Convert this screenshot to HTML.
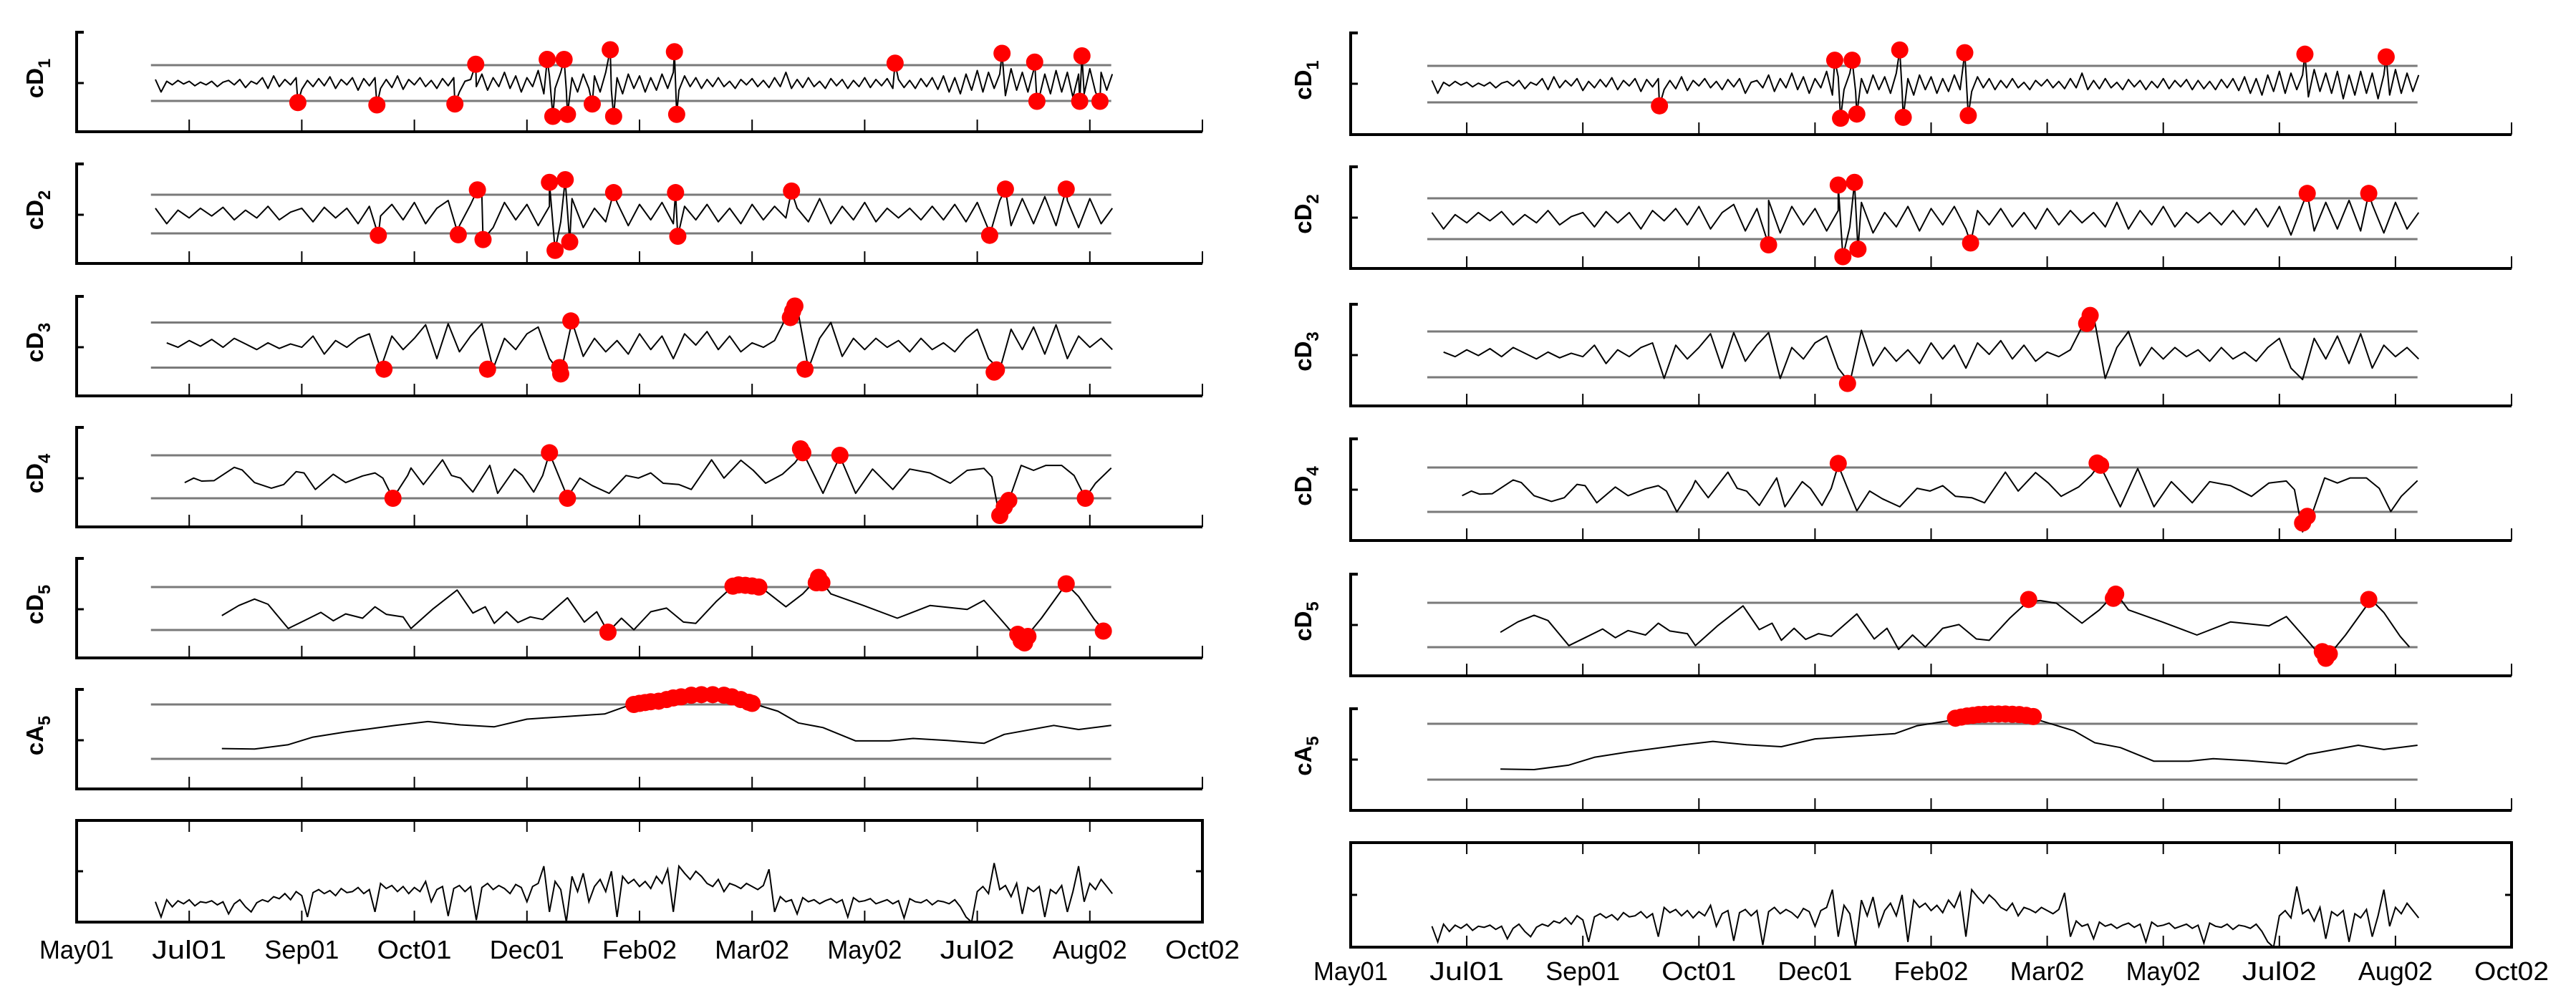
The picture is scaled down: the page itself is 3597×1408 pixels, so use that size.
<!DOCTYPE html>
<html><head><meta charset="utf-8"><style>html,body{margin:0;padding:0;background:#fff}svg{display:block}</style></head>
<body>
<svg id="chart" width="3597" height="1408" viewBox="0 0 3597 1408" xmlns="http://www.w3.org/2000/svg"></svg>
<script>
// ---- data ----
const monthLabels=['May01','Jul01','Sep01','Oct01','Dec01','Feb02','Mar02','May02','Jul02','Aug02','Oct02'];
const rowNames=['cD1','cD2','cD3','cD4','cD5','cA5'];
const cd1Start=0.7, cd1Step=0.05;
const cd1Vals=[0.2,-0.5,0.1,-0.1,0.15,-0.05,0.1,-0.15,0.05,-0.1,
0.1,-0.2,0.05,0.15,-0.1,0.2,-0.25,0.1,-0.05,0.3,
-0.3,0.4,-0.2,0.2,-0.1,0.3,-0.35,0.15,-0.2,0.25,
-0.15,0.35,-0.3,0.2,-0.1,0.3,-0.4,0.25,-0.15,0.3,
-0.3,0.2,-0.25,0.4,-0.35,0.2,-0.1,0.3,-0.2,0.15,
-0.3,0.25,-0.15,0.3,-0.5,0.1,0.2,-0.2,0.5,-0.4,
0.3,-0.2,0.6,-0.3,0.4,-0.5,0.3,-0.2,0.7,-0.6,
0.4,-0.3,0.6,-0.4,0.3,-0.5,0.5,-0.3,0.4,-0.5,
0.6,-0.4,0.3,-0.6,0.5,-0.3,0.4,-0.5,0.3,-0.4,
0.5,-0.3,0.6,-0.4,0.4,-0.2,0.3,-0.3,0.2,-0.2,
0.3,-0.2,0.1,-0.3,0.2,-0.1,0.25,-0.2,0.15,-0.25,
0.3,-0.2,0.6,-0.3,0.2,-0.25,0.3,-0.2,0.1,-0.3,
0.25,-0.15,0.2,-0.3,0.15,-0.2,0.3,-0.25,0.2,-0.15,
0.25,-0.3,0.2,-0.25,0.15,-0.3,0.25,-0.2,0.3,-0.35,
0.4,-0.5,0.3,-0.6,0.5,-0.4,0.7,-0.5,0.6,-0.3,
0.5,-0.7,0.8,-0.4,0.6,-0.5,0.7,-0.8,0.5,-0.6,
0.7,-0.5,0.6,-0.8,0.5,-0.6,0.8,-0.5,0.6,-0.4,0.5];
const cd2Start=0.7, cd2Step=0.1;
const cd2Vals=[0.3,-0.5,0.2,-0.2,0.3,-0.1,0.35,-0.3,0.2,-0.2,
0.4,-0.3,0.1,0.3,-0.4,0.35,-0.2,0.3,-0.5,0.4,
-0.1,0.5,-0.3,0.6,-0.5,0.3,0.7,-0.6,0.5,0.9,
-0.7,0.6,-0.3,0.5,-0.6,0.4,-0.4,0.8,-0.7,0.3,
-0.4,0.6,-0.6,0.5,-0.3,0.6,-0.5,0.4,-0.3,0.5,
-0.4,0.3,-0.5,0.5,-0.3,0.4,-0.2,0.3,-0.4,0.8,
-0.5,0.4,-0.3,0.6,-0.4,0.3,-0.2,0.3,-0.3,0.4,
-0.3,0.5,-0.4,0.6,-0.8,0.7,-0.6,0.8,-0.5,0.9,
-0.6,0.7,-0.7,0.8,-0.5,0.3];
const cd3Start=0.8, cd3Step=0.1;
const cd3Vals=[0.1,-0.1,0.2,-0.05,0.25,-0.1,0.3,0.05,-0.2,0.1,
-0.15,0.05,-0.1,0.4,-0.4,0.2,-0.1,0.3,0.5,-1.05,
0.4,-0.2,0.3,0.9,-0.6,0.95,-0.3,0.4,0.95,-1.05,
0.3,-0.2,0.5,0.8,-0.6,-1.25,1.05,-0.5,0.3,-0.3,
0.2,-0.4,0.5,-0.2,0.4,-0.6,0.5,0.0,0.6,-0.2,
0.4,-0.3,0.1,-0.1,0.2,1.2,1.7,-1.05,0.3,1.0,
-0.5,0.3,-0.2,0.3,-0.1,0.2,-0.3,0.3,-0.2,0.1,
-0.3,0.3,0.7,-0.6,-1.1,0.7,-0.2,0.8,-0.4,0.9,
-0.6,0.4,-0.1,0.3,-0.2];
const cd4X=[0.96,1.04,1.11,1.22,1.40,1.47,1.58,1.73,1.84,1.95,2.02,2.12,2.28,2.39,2.54,2.65,2.72,2.81,2.94,2.97,3.08,3.25,3.33,3.41,3.52,3.67,3.74,3.89,3.96,4.06,4.14,4.20,4.29,4.36,4.47,4.58,4.73,4.88,4.99,5.10,5.21,5.35,5.46,5.64,5.75,5.90,6.01,6.12,6.27,6.38,6.45,6.52,6.63,6.78,6.92,7.07,7.25,7.40,7.58,7.76,7.91,8.06,8.13,8.20,8.28,8.39,8.50,8.61,8.75,8.86,8.96,9.05,9.19];
const cd4Vals=[-0.27,-0.06,-0.2,-0.18,0.44,0.32,-0.27,-0.53,-0.36,0.24,0.18,-0.59,0.12,-0.27,0.04,0.18,-0.06,-1.0,0.06,0.41,-0.36,0.79,0.06,-0.06,-0.71,0.53,-0.77,0.36,0.06,-0.71,0.06,1.1,-0.06,-0.95,-0.06,-0.41,-0.77,0.06,-0.06,0.18,-0.3,-0.36,-0.59,0.79,-0.06,0.77,0.3,-0.3,0.12,0.65,1.15,0.41,-0.77,0.95,-0.77,0.36,-0.59,0.36,0.18,-0.3,0.3,0.39,0,-1.9,-1.12,0.53,0.3,0.53,0.53,0.06,-0.98,-0.3,0.41];
const cd5X=[1.29,1.44,1.58,1.70,1.88,2.02,2.17,2.28,2.39,2.54,2.65,2.75,2.90,2.97,3.16,3.38,3.52,3.63,3.71,3.82,3.92,4.03,4.14,4.36,4.51,4.62,4.72,4.84,4.95,5.10,5.24,5.39,5.50,5.68,5.83,5.94,6.08,6.30,6.45,6.59,6.70,6.99,7.29,7.58,7.91,8.06,8.20,8.39,8.57,8.79,8.90,9.04,9.12];
const cd5Vals=[-0.33,0.14,0.44,0.2,-0.93,-0.57,-0.18,-0.57,-0.25,-0.45,0.08,-0.27,-0.39,-0.93,-0.04,0.86,-0.21,0.08,-0.69,-0.15,-0.65,-0.39,-0.51,0.5,-0.63,-0.15,-1.1,-0.45,-0.99,-0.15,0.02,-0.63,-0.69,0.32,1.04,1.1,0.98,0.08,0.68,1.45,0.68,0.14,-0.45,0.14,-0.04,0.38,-0.45,-1.6,-0.45,1.15,0.56,-0.51,-0.99];
const ca5X=[1.29,1.58,1.88,2.10,2.39,2.83,3.12,3.41,3.71,4.00,4.36,4.69,4.88,5.17,5.46,5.75,5.97,6.23,6.41,6.63,6.92,7.22,7.43,7.73,8.06,8.24,8.68,8.90,9.19];
const ca5Vals=[-0.62,-0.64,-0.48,-0.2,-0.01,0.23,0.37,0.25,0.18,0.46,0.56,0.65,0.93,1.12,1.34,1.34,1.08,0.75,0.32,0.15,-0.34,-0.34,-0.25,-0.32,-0.43,-0.1,0.23,0.08,0.23];
const rawStart=0.7, rawStep=0.05;
const rawVals=[0.2,0.05,0.22,0.15,0.21,0.18,0.22,0.16,0.2,0.19,
0.21,0.17,0.2,0.08,0.18,0.22,0.15,0.1,0.19,0.22,
0.2,0.25,0.23,0.28,0.22,0.3,0.26,0.05,0.29,0.32,
0.28,0.31,0.26,0.33,0.29,0.3,0.34,0.28,0.32,0.1,
0.38,0.33,0.36,0.3,0.35,0.28,0.34,0.3,0.4,0.2,
0.32,0.35,0.06,0.33,0.36,0.3,0.35,0.02,0.34,0.38,
0.32,0.36,0.33,0.28,0.37,0.34,0.2,0.35,0.38,0.55,
0.1,0.4,0.32,0.0,0.45,0.3,0.48,0.2,0.35,0.42,
0.3,0.5,0.05,0.45,0.38,0.42,0.35,0.4,0.33,0.45,
0.38,0.52,0.1,0.55,0.48,0.42,0.5,0.45,0.38,0.35,
0.42,0.3,0.38,0.36,0.33,0.38,0.35,0.32,0.36,0.52,
0.1,0.25,0.2,0.22,0.08,0.24,0.2,0.22,0.18,0.21,
0.23,0.19,0.22,0.05,0.24,0.2,0.21,0.23,0.18,0.2,
0.22,0.18,0.21,0.04,0.23,0.2,0.19,0.22,0.17,0.21,
0.2,0.18,0.22,0.15,0.05,0.0,0.3,0.35,0.28,0.58,
0.32,0.36,0.25,0.38,0.08,0.34,0.3,0.35,0.05,0.32,
0.28,0.36,0.1,0.3,0.55,0.2,0.38,0.32,0.42,0.35,0.28];
// outlier markers (left panel)
const lCd1MX=[1.965,2.667,3.36,3.545,4.18,4.23,4.33,4.36,4.58,4.74,4.77,5.31,5.33,7.27,8.22,8.51,8.53,8.93,8.91,9.09];
const lCd1MV=[-1.09,-1.22,-1.17,1.05,1.32,-1.86,1.32,-1.75,-1.17,1.86,-1.86,1.75,-1.75,1.11,1.66,1.17,-1.02,1.52,-1.02,-1.02];
const lCd2MX=[3.56,4.2,4.34,4.77,5.32,6.35,8.25,8.79,2.68,3.39,3.61,4.25,4.38,5.34,8.11];
const lCd2MV=[1.25,1.64,1.78,1.11,1.11,1.19,1.29,1.29,-1.1,-1.07,-1.32,-1.88,-1.44,-1.15,-1.1];
const lCd3MX=[4.39,6.38,6.36,6.34,2.73,3.65,4.3,4.29,6.47,8.17,8.15];
const lCd3MV=[1.07,1.73,1.5,1.22,-1.07,-1.07,-1.28,-1.0,-1.07,-1.1,-1.2];
const lCd4MX=[4.2,6.43,6.45,6.78,2.81,4.36,8.2,8.24,8.28,8.96];
const lCd4MV=[1.12,1.3,1.12,1.0,-1.0,-1.0,-1.8,-1.4,-1.1,-1.0];
const lCd5MX=[5.83,5.88,5.94,6.0,6.06,6.59,6.57,6.62,8.79,4.72,8.36,8.39,8.42,8.45,9.12];
const lCd5MV=[1.04,1.1,1.08,1.05,1.0,1.45,1.2,1.2,1.15,-1.1,-1.2,-1.5,-1.6,-1.3,-1.05];
const lCa5MX=[4.95,5.0,5.05,5.1,5.17,5.24,5.3,5.37,5.46,5.55,5.65,5.75,5.82,5.9,5.97,6.0];
const lCa5MV=[1.0,1.04,1.07,1.1,1.12,1.18,1.24,1.28,1.34,1.36,1.36,1.34,1.28,1.18,1.08,1.04];
// outlier markers (right panel)
const rCd1MX=[2.66,4.17,4.32,4.22,4.36,4.73,4.76,5.29,5.32,8.22,8.92];
const rCd1MV=[-1.19,1.31,1.31,-1.87,-1.64,1.87,-1.82,1.72,-1.72,1.64,1.49];
const rCd2MX=[4.2,4.34,8.24,8.77,3.6,4.24,4.37,5.34];
const rCd2MV=[1.65,1.78,1.24,1.24,-1.28,-1.86,-1.49,-1.19];
const rCd3MX=[6.37,6.34,4.28];
const rCd3MV=[1.7,1.35,-1.27];
const rCd4MX=[4.2,6.43,6.46,8.2,8.24];
const rCd4MV=[1.18,1.2,1.1,-1.5,-1.2];
const rCd5MX=[5.84,6.59,6.57,8.77,8.37,8.4,8.43];
const rCd5MV=[1.15,1.39,1.2,1.15,-1.2,-1.5,-1.3];
const rCa5MX=[5.21,5.26,5.31,5.36,5.41,5.46,5.52,5.58,5.64,5.7,5.76,5.82,5.88];
const rCa5MV=[1.2,1.24,1.28,1.3,1.33,1.34,1.35,1.35,1.35,1.34,1.33,1.3,1.26];

// ---- drawing ----
const NS='http://www.w3.org/2000/svg';
const svg=document.getElementById('chart');
function mk(tag,attrs,parent){const e=document.createElementNS(NS,tag);for(const k in attrs)e.setAttribute(k,attrs[k]);(parent||svg).appendChild(e);return e;}
function uniformX(start,step,n){const a=[];for(let i=0;i<n;i++)a.push(start+step*i);return a;}
const cd1X=uniformX(cd1Start,cd1Step,cd1Vals.length);
const cd2X=uniformX(cd2Start,cd2Step,cd2Vals.length);
const cd3X=uniformX(cd3Start,cd3Step,cd3Vals.length);
const rawX=uniformX(rawStart,rawStep,rawVals.length);

function drawPanel(P){
  const g=mk('g',{});
  
  
  const xs=v=>P.x0+v*P.step;
  const xEnd=xs(10);
  const series=[[cd1X,cd1Vals,true],[cd2X,cd2Vals,true],[cd3X,cd3Vals,false],[cd4X,cd4Vals,false],[cd5X,cd5Vals,false],[ca5X,ca5Vals,false]];
  for(let r=0;r<6;r++){
    const top=P.tops[r], bot=top+P.h, cy=top+P.centerOff[r], u=P.units[r];
    const ys=v=>cy-v*u;
    const rg=mk('g',{},g);
    
    
    // axes
    const ax=mk('path',{d:`M${P.x0+10},${top} H${P.x0} V${bot} H${xEnd}`,fill:'none',stroke:'#000','stroke-width':4},rg);
    
    
    const mt=mk('line',{x1:P.x0,x2:P.x0+10,y1:top+71,y2:top+71,stroke:'#000','stroke-width':3},rg);
    
    
    for(let i=1;i<=10;i++){
      const t=mk('line',{x1:xs(i),x2:xs(i),y1:bot,y2:bot-17,stroke:'#000','stroke-width':2},rg);
      
      
    }
    // thresholds
    [1,-1].forEach(s=>{
      const th=mk('line',{x1:xs(0.66),x2:xs(9.19),y1:ys(s),y2:ys(s),stroke:'#7a7a7a','stroke-width':3},rg);
      
      
    });
    // series line
    const [sx,sv,merge]=series[r];
    let pts=sx.map((x,i)=>[x,sv[i]]);
    const mx=P.markers[r][0], mv=P.markers[r][1];
    if(merge){pts=pts.concat(mx.map((x,i)=>[x,mv[i]]));pts.sort((a,b)=>a[0]-b[0]);}
    const d=pts.map((p,i)=>(i?'L':'M')+xs(p[0]).toFixed(1)+','+ys(p[1]).toFixed(1)).join(' ');
    const ln=mk('path',{d:d,fill:'none',stroke:'#000','stroke-width':2,'stroke-linejoin':'round'},rg);
    
    
    for(let i=0;i<mx.length;i++){
      const c=mk('circle',{cx:xs(mx[i]),cy:ys(mv[i]),r:12,fill:'#f00'},rg);
      
      
    }
    // y label
    const lab=mk('text',{x:0,y:0,transform:`translate(${P.labelX},${top+P.h/2-5}) rotate(-90)`,'text-anchor':'middle','font-family':'Liberation Sans, Arial, sans-serif','font-weight':'bold','font-size':33,fill:'#000'},rg);
    
    
    const name=rowNames[r];
    const t1=mk('tspan',{},lab); t1.textContent=name.slice(0,2);
    const t2=mk('tspan',{dy:10,'font-size':24},lab); t2.textContent=name.slice(2);
  }
  // bottom raw series box
  const bt=P.boxTop, bb=P.boxBot;
  const bg=mk('g',{},g);
  
  
  const box=mk('rect',{x:P.x0,y:bt,width:xEnd-P.x0,height:bb-bt,fill:'none',stroke:'#000','stroke-width':4},bg);
  
  
  for(let i=1;i<=9;i++){
    const a=mk('line',{x1:xs(i),x2:xs(i),y1:bt,y2:bt+16,stroke:'#000','stroke-width':2},bg);
    
    
    const b=mk('line',{x1:xs(i),x2:xs(i),y1:bb,y2:bb-16,stroke:'#000','stroke-width':2},bg);
    
    
  }
  const midY=bt+0.5*(bb-bt);
  [[P.x0,P.x0+9],[xEnd,xEnd-9]].forEach(([a,b])=>{
    const t=mk('line',{x1:a,x2:b,y1:midY,y2:midY,stroke:'#000','stroke-width':3},bg);
    
    
  });
  const yb=v=>bb-v*(bb-bt);
  const rd=rawX.map((x,i)=>(i?'L':'M')+xs(x).toFixed(1)+','+yb(rawVals[i]).toFixed(1)).join(' ');
  const rl=mk('path',{d:rd,fill:'none',stroke:'#000','stroke-width':2},bg);
  
  
  for(let i=0;i<monthLabels.length;i++){
    const t=mk('text',{x:xs(i),y:P.labelY,'text-anchor':'middle','font-family':'Liberation Sans, Arial, sans-serif','font-size':36,textLength:104,lengthAdjust:'spacingAndGlyphs',fill:'#000'},bg);
    
    
    t.textContent=monthLabels[i];
  }
}

drawPanel({name:'left-panel',x0:107,step:157.2,tops:[45,229,414,597,780,963],h:139,
  centerOff:[71,70,68,69,70,59],units:[25,27,31.5,30,30,38],labelX:60,boxTop:1146,boxBot:1288,labelY:1339,
  markers:[[lCd1MX,lCd1MV],[lCd2MX,lCd2MV],[lCd3MX,lCd3MV],[lCd4MX,lCd4MV],[lCd5MX,lCd5MV],[lCa5MX,lCa5MV]]});
drawPanel({name:'right-panel',x0:1886,step:162.1,tops:[46,233,425,613,802,990],h:142,
  centerOff:[71.5,72.5,70,71,71,60],units:[25.5,28.5,32,31,31,39],labelX:1831,boxTop:1177,boxBot:1323,labelY:1369,
  markers:[[rCd1MX,rCd1MV],[rCd2MX,rCd2MV],[rCd3MX,rCd3MV],[rCd4MX,rCd4MV],[rCd5MX,rCd5MV],[rCa5MX,rCa5MV]]});
</script>
</body></html>
